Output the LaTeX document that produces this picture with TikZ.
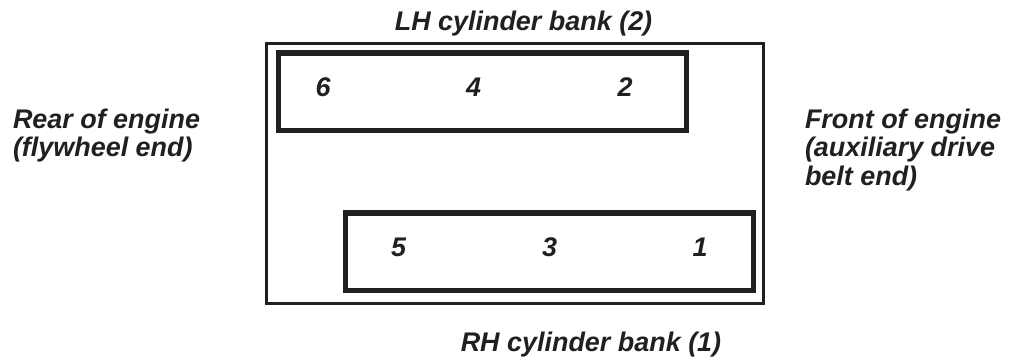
\documentclass[tikz,border=0pt]{standalone}
\usepackage{fontspec}
\setmainfont{Liberation Sans}
\definecolor{ink}{RGB}{35,31,32}
\begin{document}
\begin{tikzpicture}[x=0.75pt,y=-0.75pt,
  lbl/.style={inner sep=0pt,outer sep=0pt,text=ink,font=\fontsize{20.2}{22}\selectfont\bfseries\itshape},
  engine/.style={draw=ink,line width=1.6pt,inner sep=0pt,minimum width=372.75pt,minimum height=195pt},
  bank/.style={draw=ink,line width=3.8pt,inner sep=0pt,minimum width=306.4pt,minimum height=58.1pt}]
\useasboundingbox (0,0) rectangle (1011,362);
\node[engine] (eng) at (515,173.5) {};
\node[bank] (lh) at (482.5,91.75) {};
\node[bank] (rh) at (549.5,251.75) {};
\node[lbl,anchor=base] (t) at (523.5,30.8) {LH cylinder bank (2)};
\node[lbl,anchor=base] (b) at (591,351.5) {RH cylinder bank (1)};
\node[lbl,anchor=base west] (rear1) at (13,128.3) {Rear of engine};
\node[lbl,anchor=base west] (rear2) at (13,156.8) {(flywheel end)};
\node[lbl,anchor=base west] (front1) at (805,128.3) {Front of engine};
\node[lbl,anchor=base west] (front2) at (805,156.8) {(auxiliary drive};
\node[lbl,anchor=base west] (front3) at (805,185.3) {belt end)};
\node[lbl,anchor=base] (c6) at (323,96) {6};
\node[lbl,anchor=base] (c4) at (473.7,96) {4};
\node[lbl,anchor=base] (c2) at (625,96) {2};
\node[lbl,anchor=base] (c5) at (398.7,256) {5};
\node[lbl,anchor=base] (c3) at (549.7,256) {3};
\node[lbl,anchor=base] (c1) at (700,256) {1};
\end{tikzpicture}
\end{document}
